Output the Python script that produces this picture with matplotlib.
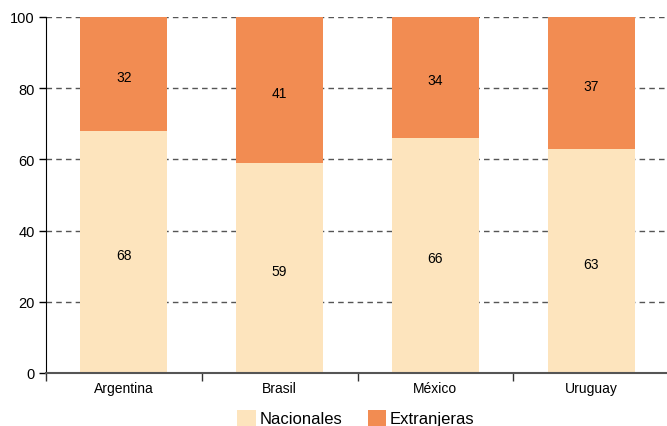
import matplotlib.pyplot as plt
import numpy as np

plt.rcParams['font.family'] = ['Liberation Sans', 'DejaVu Sans']

paises = ['Argentina', 'Brasil', 'México', 'Uruguay']
nacionales = [68, 59, 66, 63]
extranjeras = [32, 41, 34, 37]

c_nac = '#fde4bd'
c_ext = '#f28c52'

fig = plt.figure(figsize=(6.67, 4.27), dpi=100)
ax = fig.add_axes([46 / 667, 1 - 374 / 427, 623 / 667, 356 / 427])

x = np.arange(len(paises))
w = 0.56
b1 = ax.bar(x, nacionales, w, color=c_nac, label='Nacionales', zorder=3)
b2 = ax.bar(x, extranjeras, w, bottom=nacionales, color=c_ext, label='Extranjeras', zorder=3)

for i in range(len(paises)):
    ax.annotate(str(nacionales[i]), (x[i], nacionales[i] / 2), xytext=(0, -2),
                textcoords='offset points', ha='center', va='center', fontsize=10, zorder=4)
    ax.annotate(str(extranjeras[i]), (x[i], nacionales[i] + extranjeras[i] / 2), xytext=(0, -2),
                textcoords='offset points', ha='center', va='center', fontsize=10, zorder=4)

ax.set_xlim(-0.5, len(paises) - 0.5)
ax.set_ylim(0, 100)
ax.set_yticks([0, 20, 40, 60, 80, 100])
ax.yaxis.grid(True, linestyle=(0, (4, 3)), color='#555555', linewidth=1, zorder=1)
ax.set_axisbelow(True)

ax.set_xticks(x)
ax.set_xticklabels(paises, fontsize=10)
ax.tick_params(axis='x', length=0, pad=6)
ax.set_xticks(np.arange(-0.5, len(paises)), minor=True)
ax.tick_params(axis='x', which='minor', length=6, color='#333333', width=1)
ax.tick_params(axis='y', labelsize=10.5, length=5, width=1, pad=3)

for s in ['top', 'right']:
    ax.spines[s].set_visible(False)
ax.spines['left'].set_color('black')
ax.spines['left'].set_zorder(5)
ax.spines['bottom'].set_color('#555555')
ax.spines['bottom'].set_linewidth(1.5)
ax.spines['bottom'].set_zorder(5)

fig.legend(handles=[b1, b2], loc='center', bbox_to_anchor=(356 / 667, 1 - 419 / 427),
           ncol=2, frameon=False, fontsize=12, handlelength=1.1, handleheight=1.1,
           handletextpad=0.25, columnspacing=1.5)

fig.savefig('out.png', dpi=100)
